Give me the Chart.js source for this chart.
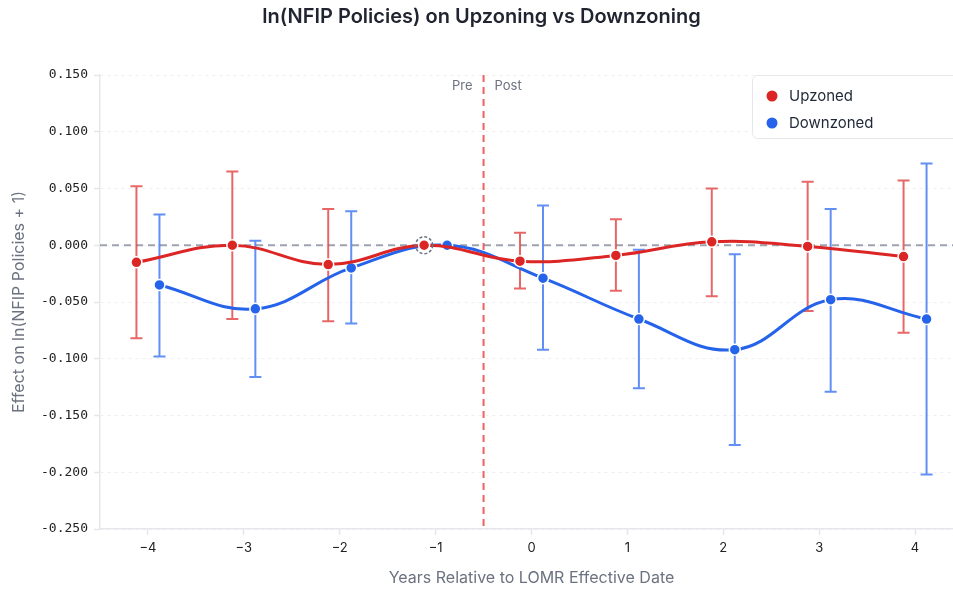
<!DOCTYPE html>
<html>
<head>
<meta charset="utf-8">
<script src="https://cdn.jsdelivr.net/npm/chart.js@4.4.1/dist/chart.umd.min.js"></script>
<style>
  html, body { margin: 0; padding: 0; background: #fff; overflow: hidden; }
  #wrap { width: 953px; height: 593px; overflow: hidden; }
</style>
</head>
<body>
<div id="wrap"><canvas id="eventChart" width="1008" height="593"></canvas></div>
<script>
// Event-study estimates, years relative to LOMR effective date
const years = [-4, -3, -2, -1, 0, 1, 2, 3, 4];
const xTicks = [-4, -3, -2, -1, 0, 1, 2, 3, 4];
const yTicks = [0.15, 0.10, 0.05, 0.0, -0.05, -0.10, -0.15, -0.20, -0.25];

const upzonedEst = [-0.015, 0.000, -0.017, 0.000, -0.014, -0.009, 0.003, -0.001, -0.010];
const upzonedLo  = [-0.082, -0.065, -0.067, null, -0.038, -0.040, -0.045, -0.058, -0.077];
const upzonedHi  = [0.052, 0.065, 0.032, null, 0.011, 0.023, 0.050, 0.056, 0.057];

const downzonedEst = [-0.035, -0.056, -0.020, 0.000, -0.029, -0.065, -0.092, -0.048, -0.065];
const downzonedLo  = [-0.098, -0.116, -0.069, null, -0.092, -0.126, -0.176, -0.129, -0.202];
const downzonedHi  = [0.027, 0.004, 0.030, null, 0.035, -0.004, -0.008, 0.032, 0.072];

const refYear = -1;      // omitted period
const treatLine = -0.5;  // pre / post split

const RED = '#dc2626';
const BLUE = '#2563eb';
const DODGE = 0.12;

const toPoints = (est, lo, hi, shift) =>
  years.map((yr, i) => ({ x: yr + shift, y: est[i], lo: lo[i], hi: hi[i], ref: yr === refYear }));

// Confidence intervals, zero line, pre/post marker
const backdropPlugin = {
  id: 'backdrop',
  beforeDatasetsDraw(chart) {
    const { ctx, chartArea: a, scales: { x, y } } = chart;
    ctx.save();

    // zero reference
    const y0 = y.getPixelForValue(0);
    ctx.strokeStyle = '#9ca3af';
    ctx.lineWidth = 2;
    ctx.setLineDash([7, 5]);
    ctx.beginPath();
    ctx.moveTo(a.left, y0);
    ctx.lineTo(a.right, y0);
    ctx.stroke();

    // treatment timing
    const xv = x.getPixelForValue(treatLine);
    ctx.strokeStyle = 'rgba(239, 68, 68, 0.85)';
    ctx.lineWidth = 2;
    ctx.setLineDash([7, 5]);
    ctx.beginPath();
    ctx.moveTo(xv, a.top);
    ctx.lineTo(xv, a.bottom);
    ctx.stroke();
    ctx.setLineDash([]);

    ctx.font = '13px Inter, sans-serif';
    ctx.fillStyle = '#6b7280';
    ctx.textBaseline = 'middle';
    ctx.textAlign = 'right';
    ctx.fillText('Pre', xv - 11, a.top + 11);
    ctx.textAlign = 'left';
    ctx.fillText('Post', xv + 11, a.top + 11);

    // error bars
    chart.data.datasets.forEach(ds => {
      ctx.strokeStyle = ds.barColor;
      ctx.lineWidth = 2;
      ds.data.forEach(p => {
        if (p.lo == null || p.hi == null) return;
        const px = x.getPixelForValue(p.x);
        const top = y.getPixelForValue(p.hi);
        const bot = y.getPixelForValue(p.lo);
        ctx.beginPath();
        ctx.moveTo(px, top);
        ctx.lineTo(px, bot);
        ctx.moveTo(px - 6, top);
        ctx.lineTo(px + 6, top);
        ctx.moveTo(px - 6, bot);
        ctx.lineTo(px + 6, bot);
        ctx.stroke();
      });
    });
    ctx.restore();
  },
  afterDatasetsDraw(chart) {
    // dashed ring around the omitted period
    const { ctx, scales: { x, y } } = chart;
    const ds = chart.data.datasets[0];
    const p = ds.data.find(d => d.ref);
    if (!p) return;
    ctx.save();
    ctx.strokeStyle = '#6b7280';
    ctx.lineWidth = 1.5;
    ctx.setLineDash([3, 2]);
    ctx.beginPath();
    ctx.arc(x.getPixelForValue(p.x), y.getPixelForValue(p.y), 8.5, 0, Math.PI * 2);
    ctx.stroke();
    ctx.restore();
  }
};

// Legend box inside the plot, top right
const legendBoxPlugin = {
  id: 'legendBox',
  afterDraw(chart) {
    const { ctx, chartArea: a } = chart;
    const left = 752, top = a.top, w = a.right - left, h = 63;
    ctx.save();
    ctx.fillStyle = '#ffffff';
    ctx.strokeStyle = '#e5e7eb';
    ctx.lineWidth = 1;
    ctx.beginPath();
    ctx.roundRect(left + 0.5, top + 0.5, w, h, 5);
    ctx.fill();
    ctx.stroke();
    ctx.font = '15px Inter, sans-serif';
    ctx.textBaseline = 'middle';
    ctx.textAlign = 'left';
    chart.data.datasets.forEach((ds, i) => {
      const cy = top + 21 + i * 27;
      ctx.fillStyle = ds.borderColor;
      ctx.beginPath();
      ctx.arc(left + 20, cy, 5.5, 0, Math.PI * 2);
      ctx.fill();
      ctx.fillStyle = '#1f2937';
      ctx.fillText(ds.label, left + 37, cy);
    });
    ctx.restore();
  }
};

const makeDataset = (label, color, barColor, pts) => ({
  label,
  data: pts,
  borderColor: color,
  backgroundColor: color,
  barColor,
  borderWidth: 3,
  tension: 0.4,
  pointRadius: 5.5,
  pointHoverRadius: 6,
  pointBorderColor: '#ffffff',
  pointBorderWidth: 1.5,
  pointBackgroundColor: color
});

new Chart(document.getElementById('eventChart'), {
  type: 'line',
  data: {
    datasets: [
      makeDataset('Upzoned', RED, 'rgba(225, 65, 65, 0.8)', toPoints(upzonedEst, upzonedLo, upzonedHi, -DODGE)),
      makeDataset('Downzoned', BLUE, 'rgba(59, 115, 240, 0.8)', toPoints(downzonedEst, downzonedLo, downzonedHi, DODGE))
    ]
  },
  options: {
    responsive: false,
    animation: false,
    layout: { padding: { left: 0, right: 45, top: 0, bottom: 0 } },
    plugins: {
      legend: { display: false },
      tooltip: { enabled: false },
      title: {
        display: true,
        text: 'ln(NFIP Policies) on Upzoning vs Downzoning',
        color: '#1f2430',
        font: { family: 'Inter, sans-serif', size: 20, weight: '600' },
        padding: { top: 5, bottom: 46 }
      }
    },
    scales: {
      x: {
        type: 'linear',
        min: -4.5,
        max: 4.5,
        afterBuildTicks: s => { s.ticks = xTicks.map(v => ({ value: v })); },
        afterFit: s => { s.height = 64; s.paddingLeft = 0; s.paddingRight = 0; },
        grid: { drawOnChartArea: false, drawTicks: true, tickLength: 6, tickColor: '#e5e7eb', tickWidth: 1.5 },
        border: { color: '#e5e7eb', width: 1.5 },
        ticks: {
          padding: 5,
          color: '#222',
          font: { family: 'Inter, sans-serif', size: 13 },
          callback: v => String(v).replace('-', '\u2212')
        },
        title: {
          display: true,
          text: 'Years Relative to LOMR Effective Date',
          color: '#6b7280',
          font: { family: 'Inter, sans-serif', size: 16 },
          padding: { top: 0, bottom: 5 }
        }
      },
      y: {
        min: -0.25,
        max: 0.15,
        afterBuildTicks: s => { s.ticks = yTicks.map(v => ({ value: v })); },
        afterFit: s => { s.width = 100; },
        grid: {
          color: '#efefef',
          lineWidth: 1,
          tickLength: 6,
          tickColor: '#e5e7eb',
          tickWidth: 1.5,
          tickBorderDash: []
        },
        border: { color: '#e5e7eb', width: 1.5, dash: [3, 4] },
        ticks: {
          padding: 6,
          color: '#222',
          font: { family: '"DejaVu Sans Mono", monospace', size: 13 },
          callback: v => v.toFixed(3)
        },
        title: {
          display: true,
          text: 'Effect on ln(NFIP Policies + 1)',
          color: '#6b7280',
          font: { family: 'Inter, sans-serif', size: 16 },
          padding: { top: 10, bottom: 0 }
        }
      }
    }
  },
  plugins: [backdropPlugin, legendBoxPlugin]
});
</script>
</body>
</html>
